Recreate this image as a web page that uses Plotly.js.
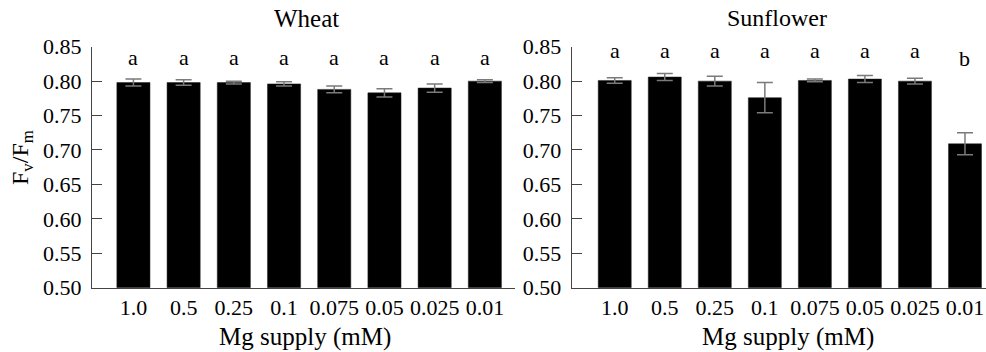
<!DOCTYPE html>
<html>
<head>
<meta charset="utf-8">
<script src="https://cdn.plot.ly/plotly-3.0.1.min.js"></script>
<style>html,body{margin:0;padding:0;background:#fff;}#chart{width:986px;height:352px;}</style>
</head>
<body>
<div id="chart"></div>
<script>
const categories = ["1.0", "0.5", "0.25", "0.1", "0.075", "0.05", "0.025", "0.01"];
const wheatValues = [0.798, 0.798, 0.798, 0.796, 0.788, 0.783, 0.790, 0.800];
const wheatErrors = [0.005, 0.004, 0.002, 0.003, 0.005, 0.006, 0.006, 0.002];
const wheatLetters = ["a", "a", "a", "a", "a", "a", "a", "a"];
const sunValues = [0.801, 0.806, 0.800, 0.776, 0.801, 0.803, 0.800, 0.709];
const sunErrors = [0.004, 0.005, 0.007, 0.022, 0.002, 0.005, 0.004, 0.016];
const sunLetters = ["a", "a", "a", "a", "a", "a", "a", "b"];
const yTicks = [0.50, 0.55, 0.60, 0.65, 0.70, 0.75, 0.80, 0.85];

const FONT = "'Liberation Serif', 'Times New Roman', Times, serif";
const xs = categories.map((c, i) => i);

function barTrace(vals, errs, xa, ya) {
  return {
    type: "bar", x: xs, y: vals, xaxis: xa, yaxis: ya,
    width: 0.66,
    marker: {color: "#000000", line: {color: "#222", width: 0.5}},
    error_y: {type: "data", array: errs, visible: true, color: "#7a7a7a", thickness: 1.5, width: 8},
    hoverinfo: "skip", showlegend: false
  };
}

const data = [
  barTrace(wheatValues, wheatErrors, "x", "y"),
  barTrace(sunValues, sunErrors, "x2", "y2")
];

const yDomain = [1 - 287.7 / 352, 1 - 46.7 / 352];
function yAxis(anchor) {
  return {
    domain: yDomain, anchor: anchor, range: [0.5, 0.85],
    tickvals: yTicks, ticktext: yTicks.map(v => v.toFixed(2)),
    ticks: "inside", ticklen: 10, tickcolor: "#444", tickwidth: 1,
    showline: true, linecolor: "#444", linewidth: 1,
    showgrid: false, zeroline: false, ticklabelstandoff: 5,
    tickfont: {family: FONT, size: 22, color: "#000"}, fixedrange: true
  };
}
function xAxis(domain, range, anchor) {
  return {
    domain: domain, anchor: anchor, range: range,
    tickvals: xs, ticktext: categories,
    ticks: "", showline: true, linecolor: "#444", linewidth: 1,
    showgrid: false, zeroline: false,
    tickfont: {family: FONT, size: 22, color: "#000"},
    ticklabelstandoff: 0, fixedrange: true
  };
}

const annotations = [];
function letters(arr, xa, ya, level, shifts) {
  arr.forEach((t, i) => {
    annotations.push({
      x: i, y: level, xref: xa, yref: ya, text: t, showarrow: false,
      xanchor: "center", yanchor: "middle",
      font: {family: FONT, size: 22, color: "#000"}, yshift: shifts(t)
    });
  });
}
letters(wheatLetters, "x", "y", 0.835, t => 0);
letters(sunLetters, "x2", "y2", 0.845, t => (t === "a" ? 0 : -8));

function paperText(text, px, py, size, angle) {
  return {text: text, x: px / 986, y: 1 - py / 352, xref: "paper", yref: "paper", showarrow: false,
          xanchor: "center", yanchor: "middle", textangle: angle || 0,
          font: {family: FONT, size: size, color: "#000"}};
}
annotations.push(
  paperText("Wheat", 306, 18, 25),
  paperText("Sunflower", 777, 18, 24),
  paperText("Mg supply (mM)", 305, 337, 25),
  paperText("Mg supply (mM)", 788, 337, 25),
  paperText("F<sub>v</sub>/F<sub>m</sub>", 22, 158, 24, -90)
);

const layout = {
  width: 986, height: 352,
  margin: {l: 0, r: 0, t: 0, b: 0},
  paper_bgcolor: "#fff", plot_bgcolor: "#fff",
  font: {family: FONT, color: "#000"},
  xaxis: xAxis([92 / 986, 515 / 986], [-0.825, 7.6], "y"),
  yaxis: yAxis("x"),
  xaxis2: xAxis([571.7 / 986, 1], [-0.86, 7.42], "y2"),
  yaxis2: yAxis("x2"),
  annotations: annotations,
  showlegend: false
};

Plotly.newPlot("chart", data, layout, {displayModeBar: false, staticPlot: true});
</script>
</body>
</html>
